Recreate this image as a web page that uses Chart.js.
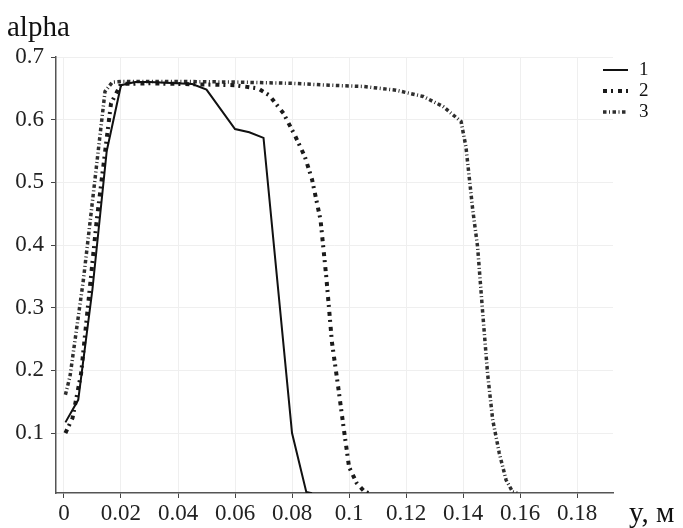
<!DOCTYPE html>
<html lang="ru">
<head>
  <meta charset="UTF-8" />
  <title>alpha (y)</title>
  <script src="https://cdn.jsdelivr.net/npm/chart.js@4"></script>
  <style>
    html, body { margin: 0; padding: 0; background: #fff; }
    .wrap { width: 683px; height: 528px; position: relative; }
  </style>
</head>
<body>
  <div class="wrap"><canvas id="alpha-chart"></canvas></div>
  <script>
    // values (y in metres, alpha)
    const y1 = [0.0005, 0.005, 0.01, 0.015, 0.02, 0.025, 0.03, 0.045, 0.05, 0.06, 0.065, 0.07, 0.08, 0.085, 0.087];
    const alpha1 = [0.117, 0.153, 0.33, 0.55, 0.655, 0.66, 0.66, 0.657, 0.648, 0.585, 0.58, 0.571, 0.1, 0.006, 0.004];

    const y2 = [0.0005, 0.003, 0.006, 0.0115, 0.0165, 0.02, 0.03, 0.04, 0.05, 0.06, 0.068, 0.072, 0.077, 0.081, 0.0845, 0.087, 0.09, 0.092, 0.094, 0.096, 0.098, 0.1, 0.1027, 0.1055, 0.107];
    const alpha2 = [0.1, 0.124, 0.195, 0.44, 0.626, 0.657, 0.658, 0.657, 0.656, 0.655, 0.65, 0.639, 0.61, 0.575, 0.541, 0.505, 0.44, 0.35, 0.245, 0.18, 0.112, 0.046, 0.02, 0.006, 0.004];

    const y3 = [0.0005, 0.0021, 0.0068, 0.0103, 0.0144, 0.017, 0.02, 0.04, 0.06, 0.08, 0.093, 0.105, 0.1165, 0.126, 0.133, 0.1393, 0.141, 0.1434, 0.1451, 0.1469, 0.1486, 0.1504, 0.1527, 0.1551, 0.1574, 0.159];
    const alpha3 = [0.161, 0.19, 0.344, 0.482, 0.645, 0.66, 0.661, 0.661, 0.66, 0.658, 0.655, 0.653, 0.647, 0.637, 0.621, 0.597, 0.557, 0.456, 0.397, 0.291, 0.195, 0.121, 0.068, 0.025, 0.006, 0.004];

    const seriesNames = ['1', '2', '3'];
    const xTicks = [0, 0.02, 0.04, 0.06, 0.08, 0.1, 0.12, 0.14, 0.16, 0.18];
    const yTicks = [0.1, 0.2, 0.3, 0.4, 0.5, 0.6, 0.7];
    const xTitle = 'y, м';
    const yTitle = 'alpha';

    const serif = '"Liberation Serif", "Times New Roman", serif';
    const toPoints = (xs, ys) => xs.map((x, i) => ({ x: x, y: ys[i] }));

    // title, axis name and legend are drawn by hand, the legend sits inside the plot
    const extraText = {
      id: 'extraText',
      afterDraw(chart) {
        const ctx = chart.ctx;
        const area = chart.chartArea;
        ctx.save();
        ctx.fillStyle = '#111';
        ctx.textBaseline = 'alphabetic';
        ctx.font = '29px ' + serif;
        ctx.fillText(yTitle, 7, 36);
        ctx.font = '29px ' + serif;
        ctx.fillText(xTitle, area.right + 16, 522);

        chart.data.datasets.forEach((ds, i) => {
          const ly = area.top + 13 + i * 21;
          ctx.beginPath();
          ctx.setLineDash(ds.borderDash || []);
          ctx.lineWidth = ds.borderWidth;
          ctx.strokeStyle = ds.borderColor;
          ctx.moveTo(area.right - 10, ly);
          ctx.lineTo(area.right + 15, ly);
          ctx.stroke();
          ctx.setLineDash([]);
          ctx.font = '19px ' + serif;
          ctx.textBaseline = 'middle';
          ctx.fillText(ds.label, area.right + 26, ly);
        });
        ctx.restore();
      }
    };

    new Chart(document.getElementById('alpha-chart'), {
      type: 'line',
      data: {
        datasets: [
          { label: seriesNames[0], data: toPoints(y1, alpha1), borderColor: '#111', borderWidth: 2, borderDash: [] },
          { label: seriesNames[1], data: toPoints(y2, alpha2), borderColor: '#1a1a1a', borderWidth: 4, borderDash: [4, 4, 2, 5] },
          { label: seriesNames[2], data: toPoints(y3, alpha3), borderColor: '#2e2e2e', borderWidth: 3.5, borderDash: [3.5, 2.5, 1, 2.5] }
        ]
      },
      options: {
        responsive: true,
        maintainAspectRatio: false,
        animation: false,
        layout: { padding: { top: 57, right: 70, left: 0, bottom: 0 } },
        elements: {
          point: { radius: 0 },
          line: { tension: 0, fill: false }
        },
        plugins: {
          legend: { display: false },
          tooltip: { enabled: false }
        },
        scales: {
          x: {
            type: 'linear',
            min: -0.0028,
            max: 0.1926,
            afterFit: s => { s.height = 35; },
            afterBuildTicks: s => { s.ticks = xTicks.map(v => ({ value: v })); },
            ticks: {
              color: '#222',
              padding: 2,
              font: { family: serif, size: 23 },
              callback: v => String(+v.toFixed(3))
            },
            grid: { color: '#efefef', tickColor: '#444', tickLength: 5 },
            border: { color: '#555', width: 1.5 }
          },
          y: {
            type: 'linear',
            min: 0.0043,
            max: 0.7,
            afterFit: s => { s.width = 56; },
            afterBuildTicks: s => { s.ticks = yTicks.map(v => ({ value: v })); },
            ticks: {
              color: '#222',
              padding: 7,
              font: { family: serif, size: 23 },
              callback: v => String(+v.toFixed(2))
            },
            grid: { color: '#efefef', tickColor: '#444', tickLength: 5 },
            border: { color: '#555', width: 1.5 }
          }
        }
      },
      plugins: [extraText]
    });
  </script>
</body>
</html>
